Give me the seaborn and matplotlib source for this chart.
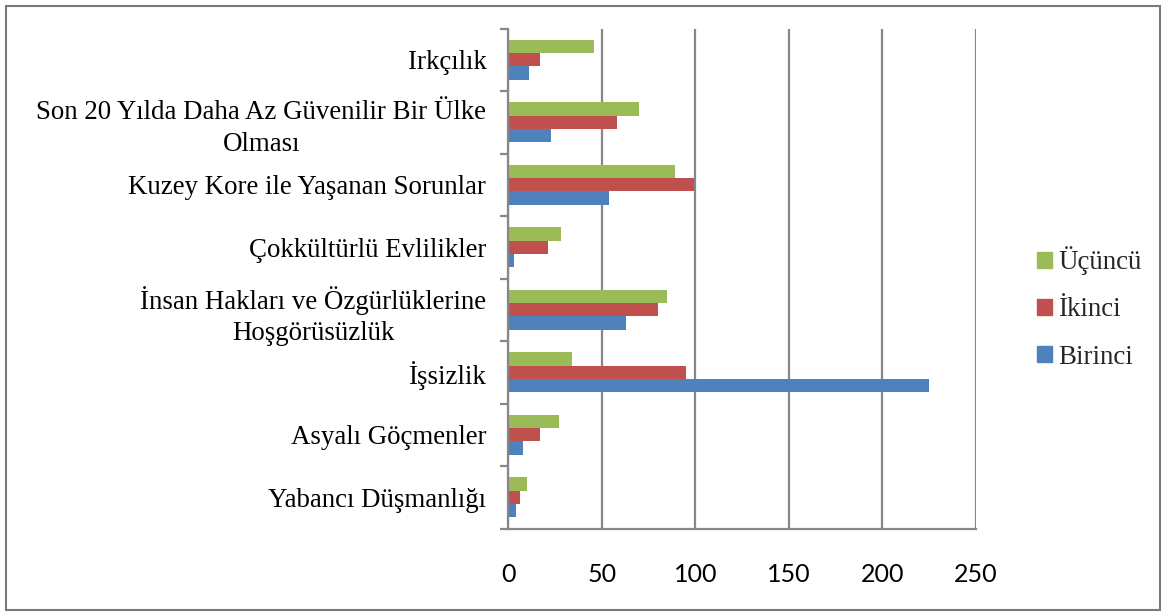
import matplotlib
matplotlib.use("Agg")
import matplotlib.pyplot as plt
import seaborn as sns
import pandas as pd
from matplotlib.patches import Rectangle

categories = [
    "Irkçılık",
    "Son 20 Yılda Daha Az Güvenilir Bir Ülke\nOlması",
    "Kuzey Kore ile Yaşanan Sorunlar",
    "Çokkültürlü Evlilikler",
    "İnsan Hakları ve Özgürlüklerine\nHoşgörüsüzlük",
    "İşsizlik",
    "Asyalı Göçmenler",
    "Yabancı Düşmanlığı",
]
ucuncu = [46, 70, 89, 28, 85, 34, 27, 10]
ikinci = [17, 58, 99, 21, 80, 95, 17, 6]
birinci = [11, 23, 54, 3, 63, 225, 8, 4]
series_names = ["Üçüncü", "İkinci", "Birinci"]
colors = ["#9BBB59", "#C0504D", "#4F81BD"]
xticks = [0, 50, 100, 150, 200, 250]

rows = []
for name, vals in zip(series_names, [ucuncu, ikinci, birinci]):
    for c, v in zip(categories, vals):
        rows.append({"Kategori": c, "Seri": name, "Değer": v})
df = pd.DataFrame(rows)

sns.set_theme(style="white")
plt.rcParams["font.family"] = ["Liberation Serif", "DejaVu Serif"]

fig = plt.figure(figsize=(11.67, 6.16), dpi=100)
ax = fig.add_axes([508.5 / 1167, 1 - 528.5 / 616, (975.7 - 508.5) / 1167, 500 / 616])

sns.barplot(data=df, y="Kategori", x="Değer", hue="Seri", order=categories,
            hue_order=series_names, palette=colors, width=0.64, orient="h",
            saturation=1, ax=ax, legend=True, edgecolor="none")

grid_c = "#878787"
ax.set_xlim(0, 250)
ax.set_xticks(xticks)
ax.set_xticklabels([str(t) for t in xticks], fontfamily="Lato", fontsize=18)
ax.set_xlabel("")
ax.set_ylabel("")
ax.xaxis.grid(True, color=grid_c, linewidth=1.6)
ax.set_axisbelow(True)
for s in ["top", "right"]:
    ax.spines[s].set_visible(False)
for s in ["left", "bottom"]:
    ax.spines[s].set_color(grid_c)
    ax.spines[s].set_linewidth(1.6)

ax.tick_params(axis="x", direction="inout", length=10, width=1.6, color=grid_c,
               pad=20, labelcolor="black")
ax.tick_params(axis="y", which="major", length=0, pad=16, labelsize=19.4, labelcolor="black")
ax.set_yticks(range(len(categories)))
ax.set_yticklabels(categories, fontsize=19.4, multialignment="center", linespacing=1.35,
                   fontfamily="Liberation Serif")
ax.set_yticks([i - 0.5 for i in range(len(categories) + 1)], minor=True)
ax.tick_params(axis="y", which="minor", length=6, width=1.6, color=grid_c, direction="out", left=True)

ax.get_legend().remove()
handles = [Rectangle((0, 0), 1, 1, color=c) for c in colors]
fig.legend(handles, series_names, loc="center left", bbox_to_anchor=(1037 / 1167, 1 - 308 / 616),
           frameon=False, prop={"family": "Liberation Serif", "size": 19.4},
           handlelength=0.55, handleheight=0.55, handletextpad=0.25, labelspacing=0.82,
           borderpad=0, borderaxespad=0)

fig.add_artist(Rectangle((6 / 1167, 6 / 616), 1154 / 1167, 604 / 616, transform=fig.transFigure,
                         fill=False, edgecolor="#7a7a7a", linewidth=1.5))

fig.savefig("out.png", dpi=100, facecolor="white")
